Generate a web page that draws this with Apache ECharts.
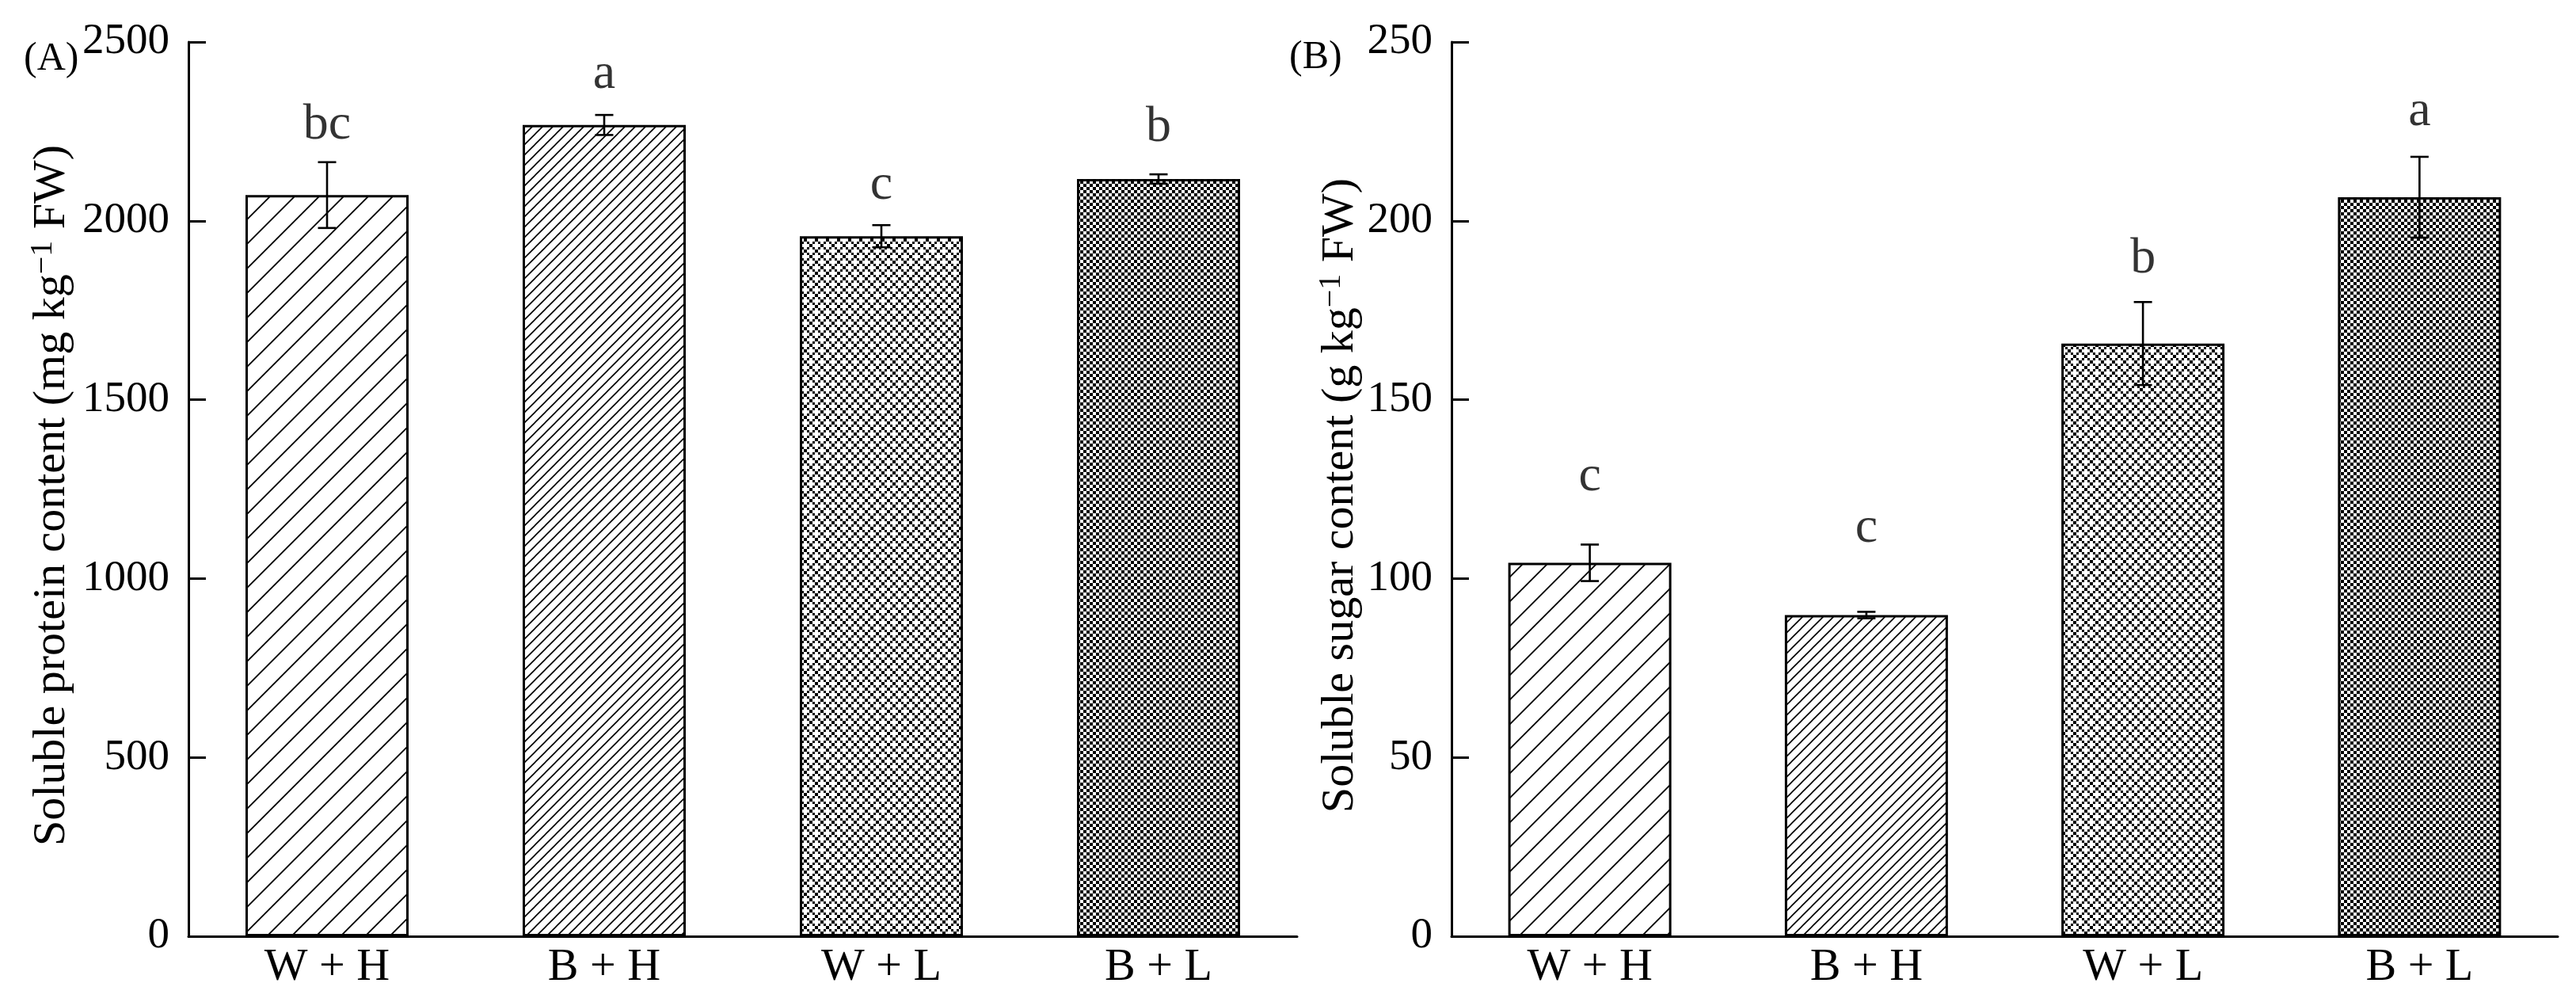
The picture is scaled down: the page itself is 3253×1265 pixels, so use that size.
<!DOCTYPE html>
<html>
<head>
<meta charset="utf-8">
<script src="https://cdn.jsdelivr.net/npm/echarts@6/dist/echarts.min.js"></script>
<style>
html,body{margin:0;padding:0;background:#fff;}
#chart{width:3253px;height:1265px;}
</style>
</head>
<body>
<div id="chart"></div>
<script>
// ---- data ----
const categories = ['W + H', 'B + H', 'W + L', 'B + L'];
const proteinMean = [2072, 2268, 1957, 2117];
const proteinErr = [92, 28, 31, 13];
const proteinLetters = ['bc', 'a', 'c', 'b'];
const proteinLetterY = [2225, 2367, 2057, 2219];
const sugarMean = [104.4, 89.8, 165.7, 206.6];
const sugarErr = [5.1, 0.9, 11.6, 11.3];
const sugarLetters = ['c', 'c', 'b', 'a'];
const sugarLetterY = [124.1, 109.7, 185, 226.3];
const proteinTicks = {min: 0, max: 2500, interval: 500};
const sugarTicks = {min: 0, max: 250, interval: 50};

// ---- patterns ----
const FONT = "'Liberation Serif', 'Times New Roman', serif";
function mk(w, h) { const c = document.createElement('canvas'); c.width = w; c.height = h; const x = c.getContext('2d'); x.fillStyle = '#fff'; x.fillRect(0, 0, w, h); return [c, x]; }
function hatch(s, lw) {
  const [c, x] = mk(s, s);
  x.strokeStyle = '#000'; x.lineWidth = lw;
  x.beginPath();
  x.moveTo(0, s); x.lineTo(s, 0);
  x.moveTo(-s / 2, s / 2); x.lineTo(s / 2, -s / 2);
  x.moveTo(s / 2, s * 1.5); x.lineTo(s * 1.5, s / 2);
  x.stroke();
  return c;
}
function crossPattern() {
  const off = [0, 4, 7, 11], wd = [4, 3, 4, 3];
  const [c, x] = mk(14, 14);
  x.fillStyle = '#000';
  const cells = [[0, 0], [1, 1], [1, 3], [2, 2], [3, 1], [3, 3]];
  cells.forEach(([r, k]) => x.fillRect(off[k], off[r], wd[k], wd[r]));
  return c;
}
function checker(n) {
  const [c, x] = mk(2 * n, 2 * n);
  x.fillStyle = '#000';
  x.fillRect(0, 0, n, n); x.fillRect(n, n, n, n);
  return c;
}
const patterns = [hatch(31, 1.8), hatch(13, 1.6), crossPattern(), checker(4)].map(img => ({image: img, repeat: 'repeat'}));

// ---- chart ----
const chart = echarts.init(document.getElementById('chart'), null, {renderer: 'canvas'});
const gridTop = 53, gridH = 1129;
function xAx(gi) {
  return {
    type: 'category', gridIndex: gi, data: categories,
    axisTick: {show: false},
    axisLine: {show: true, lineStyle: {color: '#000', width: 3}},
    axisLabel: {color: '#000', fontSize: 58, fontFamily: FONT, margin: 11}
  };
}
function yAx(gi, t, nameMain, gap) {
  return {
    type: 'value', gridIndex: gi, min: t.min, max: t.max, interval: t.interval,
    axisLine: {show: true, lineStyle: {color: '#000', width: 3}},
    axisTick: {show: true, inside: true, length: 22, lineStyle: {color: '#000', width: 3}},
    splitLine: {show: false},
    axisLabel: {color: '#000', fontSize: 55, fontFamily: FONT, margin: 24, formatter: v => String(v)},
    name: '{t|' + nameMain + '}{s|−1}{t| FW)}',
    nameLocation: 'middle', nameRotate: 90, nameGap: gap,
    nameTextStyle: {
      padding: [0, 16, 0, 0],
      rich: {
        t: {fontSize: 58, fontFamily: FONT, color: '#000', lineHeight: 64, verticalAlign: 'middle'},
        s: {fontSize: 40, fontFamily: FONT, color: '#000', lineHeight: 40, verticalAlign: 'top'}
      }
    }
  };
}
function errSeries(ai, means, errs) {
  return {
    type: 'custom', xAxisIndex: ai, yAxisIndex: ai, z: 5,
    data: means.map((m, i) => [i, m, errs[i]]),
    renderItem: function (params, api) {
      const i = api.value(0), m = api.value(1), e = api.value(2);
      const t = api.coord([i, m + e]), b = api.coord([i, m - e]);
      const hw = 11.5;
      const st = {stroke: '#000', lineWidth: 2.6};
      return {type: 'group', children: [
        {type: 'line', shape: {x1: t[0], y1: t[1], x2: b[0], y2: b[1]}, style: st},
        {type: 'line', shape: {x1: t[0] - hw, y1: t[1], x2: t[0] + hw, y2: t[1]}, style: st},
        {type: 'line', shape: {x1: b[0] - hw, y1: b[1], x2: b[0] + hw, y2: b[1]}, style: st}
      ]};
    }
  };
}
function barSeries(ai, means) {
  return {
    type: 'bar', xAxisIndex: ai, yAxisIndex: ai, barWidth: 206, z: 2,
    data: means.map((v, i) => ({value: v, itemStyle: {color: patterns[i]}})),
    itemStyle: {borderColor: '#000', borderWidth: 3}
  };
}
function letterSeries(ai, ys, letters) {
  return {
    type: 'scatter', xAxisIndex: ai, yAxisIndex: ai, symbolSize: 0.01, z: 6,
    data: ys.map((y, i) => [i, y]),
    label: {show: true, position: 'top', distance: 0, offset: [0, 13],
      formatter: p => letters[p.dataIndex], color: '#000', fontSize: 64, fontFamily: FONT}
  };
}
chart.setOption({
  animation: false,
  backgroundColor: '#fff',
  grid: [
    {left: 238, top: gridTop, width: 1400, height: gridH},
    {left: 1833, top: gridTop, width: 1397, height: gridH}
  ],
  xAxis: [xAx(0), xAx(1)],
  yAxis: [
    yAx(0, proteinTicks, 'Soluble protein content (mg kg', 140),
    yAx(1, sugarTicks, 'Soluble sugar content (g kg', 108)
  ],
  graphic: [
    {type: 'text', left: 30, top: 50, style: {text: '(A)', fontSize: 50, fontFamily: FONT, fill: '#000'}},
    {type: 'text', left: 1628, top: 48, style: {text: '(B)', fontSize: 50, fontFamily: FONT, fill: '#000'}}
  ],
  series: [
    barSeries(0, proteinMean), errSeries(0, proteinMean, proteinErr), letterSeries(0, proteinLetterY, proteinLetters),
    barSeries(1, sugarMean), errSeries(1, sugarMean, sugarErr), letterSeries(1, sugarLetterY, sugarLetters)
  ]
});
</script>
</body>
</html>
